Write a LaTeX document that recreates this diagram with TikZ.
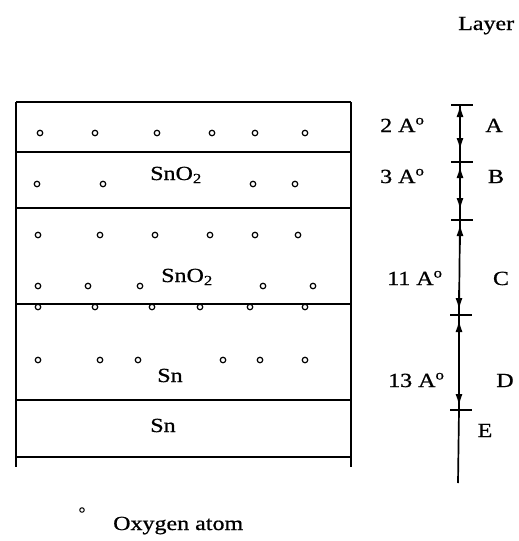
\documentclass[tikz,border=0pt]{standalone}
\usepackage{fontspec}
\setmainfont{Liberation Serif}[FakeStretch=1.2,FakeBold=0.8]
\usetikzlibrary{arrows.meta}
\begin{document}
\begin{tikzpicture}[x=1pt,y=-1pt,
  frame/.style={line width=1.7pt},
  oatom/.style={circle,draw,line width=1.2pt,inner sep=0pt,minimum size=5.5pt},
  lbl/.style={font=\fontsize{20}{22}\selectfont,inner sep=0pt},
  scaleline/.style={line width=1.7pt},
  dimarrow/.style={line width=1.7pt,-{Latex[length=12pt,width=7pt]}}]
\useasboundingbox[fill=white] (0,0) rectangle (519,541);
% layer box
\coordinate (TL) at (16,102); \coordinate (TR) at (351,102);
\coordinate (BL) at (16,467); \coordinate (BR) at (351,467);
\draw[frame] (TL) -- (BL);
\draw[frame] (TR) -- (BR);
\foreach \yy [count=\i] in {102,152,208,304,400,457} {
  \coordinate (hl\i) at (16,\yy); \coordinate (hr\i) at (351,\yy);
  \draw[frame] (hl\i) -- (hr\i);
}
% oxygen atoms
\foreach \xx [count=\i] in {40,95,157,212,255,305} \node[oatom] (oa\i) at (\xx,133) {};
\foreach \xx [count=\i] in {37,103,253,295} \node[oatom] (ob\i) at (\xx,184) {};
\foreach \xx [count=\i] in {38,100,155,210,255,298} \node[oatom] (oc\i) at (\xx,235) {};
\foreach \xx [count=\i] in {38,88,140,263,313} \node[oatom] (od\i) at (\xx,286) {};
\foreach \xx [count=\i] in {38,95,152,200,250,305} \node[oatom] (oe\i) at (\xx,307) {};
\foreach \xx [count=\i] in {38,100,138,223,260,305} \node[oatom] (of\i) at (\xx,360) {};
% layer names
\node[lbl,anchor=base] (sno1) at (176,180) {SnO\textsubscript{2}};
\node[lbl,anchor=base] (sno2) at (187,282) {SnO\textsubscript{2}};
\node[lbl,anchor=base] (sn1) at (170,382) {Sn};
\node[lbl,anchor=base] (sn2) at (163,432) {Sn};
% scale
\node[lbl,anchor=base west] (layer) at (458,30) {Layer};
\coordinate (t0) at (460,105);
\coordinate (t1) at (460,162);
\coordinate (t2) at (460,220);
\coordinate (t3) at (459,315);
\coordinate (t4) at (459,410);
\coordinate (tb) at (458,483);
\draw[scaleline] (t0) -- (t1) -- (t2) -- (t3) -- (t4) -- (tb);
\foreach \t in {t0,t1,t2,t3,t4} \draw[scaleline] ([xshift=-9pt]\t) -- ([xshift=13pt]\t);
% dimension arrows
\draw[dimarrow] (460,125) -- (t0);
\draw[dimarrow] (460,128) -- (460,150);
\draw[dimarrow] (460,185) -- (460,166);
\draw[dimarrow] (460,190) -- (460,210);
\draw[dimarrow] (460,245) -- (460,224);
\draw[dimarrow] (459,290) -- (459,310);
\draw[dimarrow] (459,340) -- (459,320);
\draw[dimarrow] (459,385) -- (459,406);
% dimension labels
\node[lbl,anchor=base west] (dA) at (380,132) {2 A\textsuperscript{o}};
\node[lbl,anchor=base west] (dB) at (380,183) {3 A\textsuperscript{o}};
\node[lbl,anchor=base west] (dC) at (387,285) {11 A\textsuperscript{o}};
\node[lbl,anchor=base west] (dD) at (388,387) {13 A\textsuperscript{o}};
\node[lbl,anchor=base] (lA) at (494,132) {A};
\node[lbl,anchor=base] (lB) at (496,183) {B};
\node[lbl,anchor=base] (lC) at (501,285) {C};
\node[lbl,anchor=base] (lD) at (505,387) {D};
\node[lbl,anchor=base] (lE) at (485,437) {E};
% legend
\node[oatom,minimum size=4.5pt,line width=1pt] (leg) at (82,510) {};
\node[lbl,anchor=base west] (legt) at (113,530) {Oxygen atom};
\end{tikzpicture}
\end{document}
